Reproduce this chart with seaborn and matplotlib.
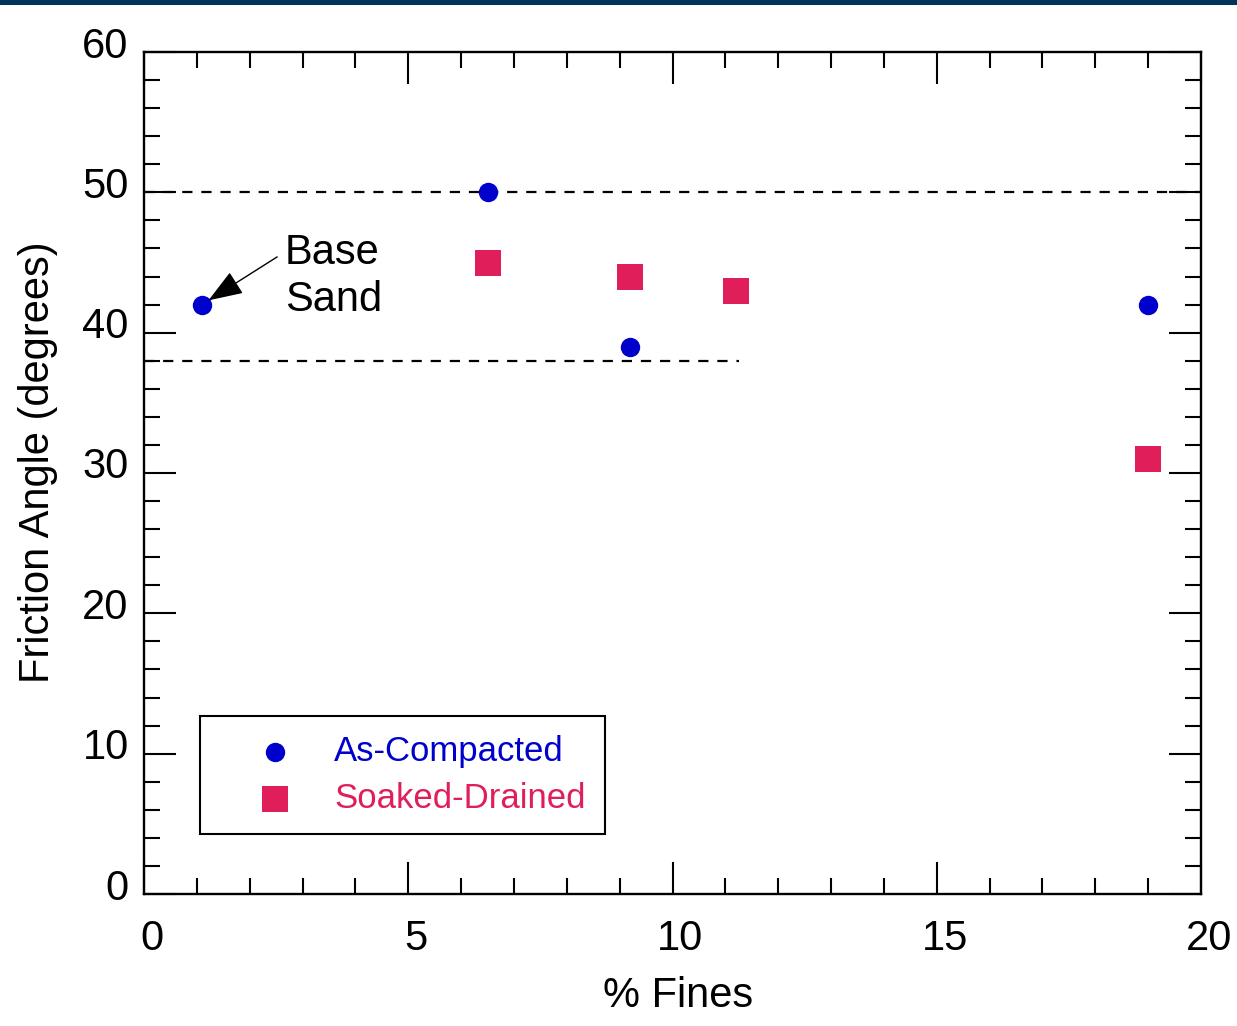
import matplotlib
matplotlib.use("Agg")
import matplotlib.pyplot as plt
import matplotlib.transforms as mtransforms
from matplotlib.patches import Rectangle
from matplotlib.ticker import MultipleLocator
import seaborn as sns
import pandas as pd

# ---- data ----
compacted_fines = [1.1, 6.5, 9.2, 19.0]
compacted_angle = [42.0, 50.0, 39.0, 42.0]
drained_fines = [6.5, 9.2, 11.2, 19.0]
drained_angle = [45.0, 44.0, 43.0, 31.0]
series_names = ["As-Compacted", "Soaked-Drained"]
bound_levels = [50.0, 38.0]
bound_start = [0.0, 0.0]
bound_end = [20.0, 11.25]
annotation_text = "Base\nSand"

BLUE = "#0000CC"
RED = "#E01E5A"

sns.set_style("white")
plt.rcParams["font.family"] = ["Liberation Sans", "DejaVu Sans"]
plt.rcParams["text.color"] = "black"
plt.rcParams["axes.labelcolor"] = "black"
plt.rcParams["xtick.color"] = "black"
plt.rcParams["ytick.color"] = "black"

FS = 30
DPI = 100
fig = plt.figure(figsize=(12.37, 10.26), dpi=DPI)
ax = fig.add_axes([144 / 1237, 1 - 894 / 1026, (1201 - 144) / 1237, (894 - 52) / 1026])

# top banner
fig.patches.append(Rectangle((0, 1 - 5 / 1026), 1, 5 / 1026, transform=fig.transFigure,
                             facecolor="#00335a", edgecolor="none", zorder=10))

# dashed bounds
for lvl, x0, x1 in zip(bound_levels, bound_start, bound_end):
    ax.hlines(lvl, x0, x1, colors="black", linewidth=1.6, linestyles=(0, (4.6, 4.0)), zorder=1)

df_c = pd.DataFrame({"fines": compacted_fines, "angle": compacted_angle})
df_d = pd.DataFrame({"fines": drained_fines, "angle": drained_angle})
sns.scatterplot(data=df_c, x="fines", y="angle", ax=ax, color=BLUE, marker="o",
                s=195, linewidth=0, label=series_names[0], zorder=3)
sns.scatterplot(data=df_d, x="fines", y="angle", ax=ax, color=RED, marker="s",
                s=340, linewidth=0, label=series_names[1], zorder=3)

ax.set_xlim(0, 20)
ax.set_ylim(0, 60)
ax.xaxis.set_major_locator(MultipleLocator(5))
ax.xaxis.set_minor_locator(MultipleLocator(1))
ax.yaxis.set_major_locator(MultipleLocator(10))
ax.yaxis.set_minor_locator(MultipleLocator(2))

for sp in ax.spines.values():
    sp.set_visible(True)
    sp.set_color("black")
    sp.set_linewidth(1.7)

ax.tick_params(which="both", direction="in", top=True, right=True, bottom=True, left=True,
               color="black", width=1.5)
ax.tick_params(which="major", length=23)
ax.tick_params(which="minor", length=11.5)
ax.tick_params(axis="x", which="major", pad=18, labelsize=FS)
ax.tick_params(axis="y", which="major", pad=11, labelsize=FS)

# small offsets of tick labels as in reference
offx = mtransforms.ScaledTranslation(8 / DPI, 0, fig.dpi_scale_trans)
offy = mtransforms.ScaledTranslation(0, 10 / DPI, fig.dpi_scale_trans)
for lab in ax.get_xticklabels():
    lab.set_transform(lab.get_transform() + offx)
for lab in ax.get_yticklabels():
    lab.set_transform(lab.get_transform() + offy)

ax.set_xlabel("% Fines", fontsize=FS, va="center")
ax.set_ylabel("Friction Angle (degrees)", fontsize=FS, va="center")
ax.xaxis.set_label_coords((678 - 144) / 1057, (894 - 996) / 842)
ax.yaxis.set_label_coords((38 - 144) / 1057, (894 - 462) / 842)

# annotation
ax.annotate("", xy=(1.22, 42.3), xytext=(2.52, 45.4),
            arrowprops=dict(arrowstyle="-|>,head_length=0.6,head_width=0.22", color="black",
                            lw=1.0, mutation_scale=36, shrinkA=0, shrinkB=0))
ax.text(2.67, 44.0, annotation_text, fontsize=FS, ha="left", va="center", linespacing=1.2)

# legend
leg = ax.legend(loc="lower left", bbox_to_anchor=((200 - 144) / 1057, (894 - 834) / 842),
                borderaxespad=0, frameon=True, fancybox=False, edgecolor="black",
                fontsize=25, borderpad=0.55, handlelength=3.2, handletextpad=0.12,
                labelspacing=0.4, scatterpoints=1, framealpha=1)
leg.get_frame().set_linewidth(1.5)
for txt, col in zip(leg.get_texts(), [BLUE, RED]):
    txt.set_color(col)

fig.savefig("out.png", dpi=DPI, facecolor="white")
